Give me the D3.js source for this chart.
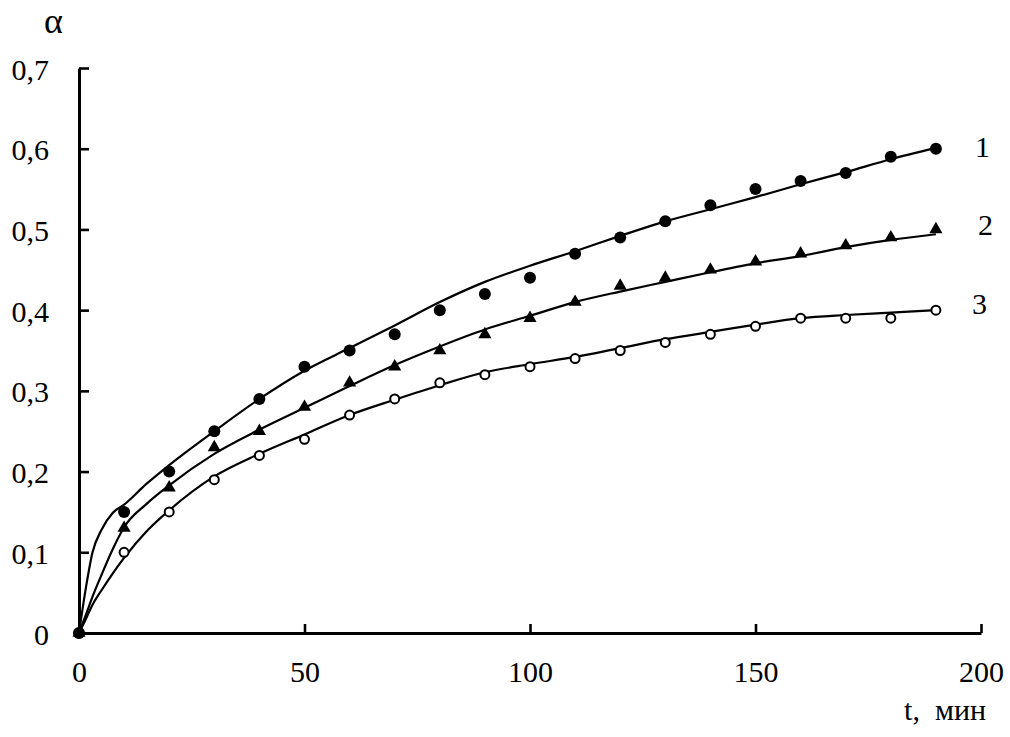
<!DOCTYPE html>
<html>
<head>
<meta charset="utf-8">
<script src="https://cdn.jsdelivr.net/npm/d3@7"></script>
<style>
  html, body { margin: 0; padding: 0; background: #fff; }
  svg { display: block; }
  text { font-family: "Liberation Serif", "Times New Roman", serif; fill: #000; }
</style>
</head>
<body>
<svg id="chart" width="1010" height="737"></svg>
<script>
// ---- data ----
const times = [0, 10, 20, 30, 40, 50, 60, 70, 80, 90, 100, 110, 120, 130, 140, 150, 160, 170, 180, 190];
const series1 = [0, 0.15, 0.20, 0.25, 0.29, 0.33, 0.35, 0.37, 0.40, 0.42, 0.44, 0.47, 0.49, 0.51, 0.53, 0.55, 0.56, 0.57, 0.59, 0.60];
const series2 = [0, 0.13, 0.18, 0.23, 0.25, 0.28, 0.31, 0.33, 0.35, 0.37, 0.39, 0.41, 0.43, 0.44, 0.45, 0.46, 0.47, 0.48, 0.49, 0.50];
const series3 = [0, 0.10, 0.15, 0.19, 0.22, 0.24, 0.27, 0.29, 0.31, 0.32, 0.33, 0.34, 0.35, 0.36, 0.37, 0.38, 0.39, 0.39, 0.39, 0.40];

// fitted (calculated) curves
const fitTimes = [0, 1.5, 3, 5, 7.5, 10, 15, 20, 30, 40, 50, 60, 70, 80, 90, 100, 110, 120, 130, 140, 150, 160, 170, 180, 190];
const fit1 = [0, 0.055, 0.10, 0.128, 0.149, 0.159, 0.185, 0.208, 0.25, 0.29, 0.325, 0.353, 0.381, 0.41, 0.435, 0.455, 0.473, 0.492, 0.51, 0.525, 0.54, 0.556, 0.571, 0.587, 0.601];
const fit2 = [0, 0.022, 0.045, 0.072, 0.104, 0.131, 0.16, 0.183, 0.222, 0.252, 0.279, 0.306, 0.332, 0.355, 0.376, 0.393, 0.41, 0.423, 0.435, 0.447, 0.458, 0.467, 0.478, 0.487, 0.494];
const fit3 = [0, 0.017, 0.035, 0.053, 0.074, 0.093, 0.126, 0.152, 0.194, 0.222, 0.246, 0.27, 0.289, 0.307, 0.323, 0.333, 0.342, 0.353, 0.364, 0.373, 0.382, 0.39, 0.394, 0.397, 0.40];

const xTicks = [0, 50, 100, 150, 200];
const yTicks = [0, 0.1, 0.2, 0.3, 0.4, 0.5, 0.6, 0.7];
const seriesLabels = ["1", "2", "3"];
const yTitle = "α";
const xTitle = "t,  мин";

// ---- drawing ----
const svg = d3.select("#chart");
const x = d3.scaleLinear().domain([0, 200]).range([79, 981]);
const y = d3.scaleLinear().domain([0, 0.7]).range([633, 68]);
const fmt = v => v === 0 ? "0" : d3.format(".1f")(v).replace(".", ",");

// axes
const gx = svg.append("g").attr("transform", `translate(0,${y(0)})`)
  .call(d3.axisBottom(x).tickValues(xTicks).tickFormat(d3.format("d"))
        .tickSizeInner(-9).tickSizeOuter(0).tickPadding(28));
const gy = svg.append("g").attr("transform", `translate(${x(0)},0)`)
  .call(d3.axisLeft(y).tickValues(yTicks).tickFormat(fmt)
        .tickSizeInner(-10).tickSizeOuter(0).tickPadding(30));
[gx, gy].forEach(g => {
  g.select(".domain").attr("stroke", "#000").attr("stroke-width", 3);
  g.selectAll(".tick line").attr("stroke", "#000").attr("stroke-width", 2.6);
  g.selectAll(".tick text").attr("font-family", "Liberation Serif, Times New Roman, serif")
    .attr("font-size", 30).attr("fill", "#000");
});
gy.selectAll(".tick text").attr("dy", "0.37em");

// fitted curves
const line = d3.line().x(d => x(d[0])).y(d => y(d[1])).curve(d3.curveMonotoneX);
[fit1, fit2, fit3].forEach(f => {
  svg.append("path")
    .datum(fitTimes.map((t, i) => [t, f[i]]))
    .attr("d", line)
    .attr("fill", "none").attr("stroke", "#000").attr("stroke-width", 2.2);
});

// markers
const pts = s => times.map((t, i) => [t, s[i]]);
svg.append("g").selectAll("circle").data(pts(series3)).join("circle")
  .attr("cx", d => x(d[0])).attr("cy", d => y(d[1])).attr("r", 4.5)
  .attr("fill", "#fff").attr("stroke", "#000").attr("stroke-width", 2);
svg.append("g").selectAll("path").data(pts(series2)).join("path")
  .attr("transform", d => `translate(${x(d[0])},${y(d[1])})`)
  .attr("d", d3.symbol().type(d3.symbolTriangle).size(75))
  .attr("fill", "#000");
svg.append("g").selectAll("circle").data(pts(series1)).join("circle")
  .attr("cx", d => x(d[0])).attr("cy", d => y(d[1])).attr("r", 6)
  .attr("fill", "#000");

// series labels
const labelPos = [[975, 157], [978, 235], [972, 314]];
seriesLabels.forEach((l, i) => {
  svg.append("text").attr("x", labelPos[i][0]).attr("y", labelPos[i][1])
    .attr("font-size", 30).text(l);
});

// titles
svg.append("text").attr("x", 44).attr("y", 33).attr("font-size", 36).text(yTitle);
svg.append("text").attr("x", 986).attr("y", 720).attr("text-anchor", "end")
  .attr("font-size", 30).attr("xml:space", "preserve").style("white-space", "pre").text(xTitle);
</script>
</body>
</html>
